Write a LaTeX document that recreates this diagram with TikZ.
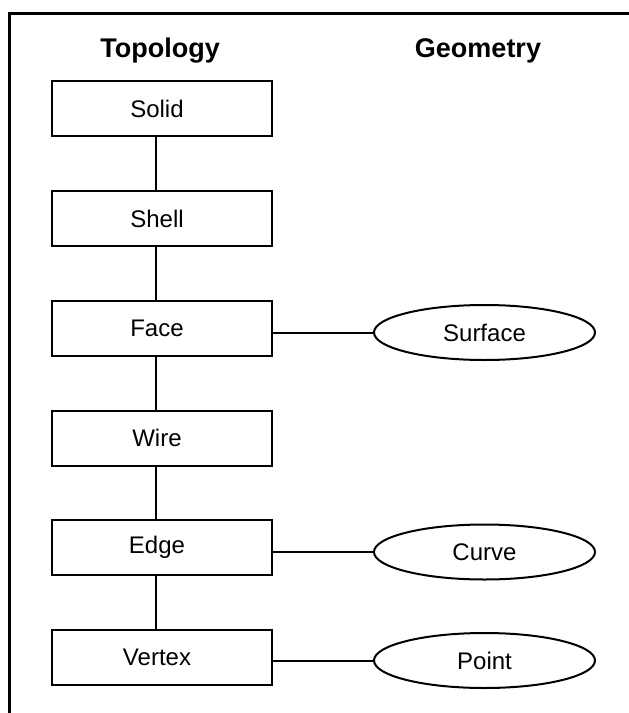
\documentclass[tikz,border=0pt]{standalone}
\usepackage{fontspec}
\setmainfont{Liberation Sans}
\usetikzlibrary{shapes.geometric}
\begin{document}
\begin{tikzpicture}[x=1pt,y=-1pt,
  topobox/.style={draw, rectangle, line width=2pt, minimum width=220pt,
    minimum height=55pt, inner sep=0pt, font=\fontsize{24}{28}\selectfont,
    execute at begin node={\hspace*{-10pt}}},
  geombox/.style={draw, ellipse, line width=2pt, minimum width=221pt,
    minimum height=55pt, inner sep=0pt, font=\fontsize{24}{28}\selectfont},
  heading/.style={anchor=base, font=\fontsize{27}{32}\selectfont\bfseries},
  link/.style={line width=2pt}]
\useasboundingbox (0,0) rectangle (629,713);

% outer frame (top and left edges)
\draw[line width=3pt] (9.5,713) -- (9.5,13.5) -- (629,13.5);

% column headings
\node[heading] (topo) at (160,57) {Topology};
\node[heading] (geom) at (478,57) {Geometry};

% topology chain
\node[topobox] (solid)  at (162,108.5) {Solid};
\node[topobox] (shell)  at (162,218.5) {Shell};
\node[topobox] (face)   at (162,328.5) {Face};
\node[topobox] (wire)   at (162,438)   {Wire};
\node[topobox] (edge)   at (162,547.5) {Edge};
\node[topobox] (vertex) at (162,657)   {Vertex};

% geometry entities
\node[geombox] (surface) at (484.5,332.5) {Surface};
\node[geombox] (curve)   at (484.5,552)   {Curve};
\node[geombox] (point)   at (484.5,660.5) {Point};

% vertical links
\foreach \a/\b in {solid/shell, shell/face, face/wire, wire/edge, edge/vertex}
  \draw[link] ([xshift=-6pt]\a.south) -- ([xshift=-6pt]\b.north);

% topology to geometry links
\draw[link] (face.east |- surface.west) -- (surface.west);
\draw[link] (edge.east |- curve.west) -- (curve.west);
\draw[link] (vertex.east |- point.west) -- (point.west);
\end{tikzpicture}
\end{document}
